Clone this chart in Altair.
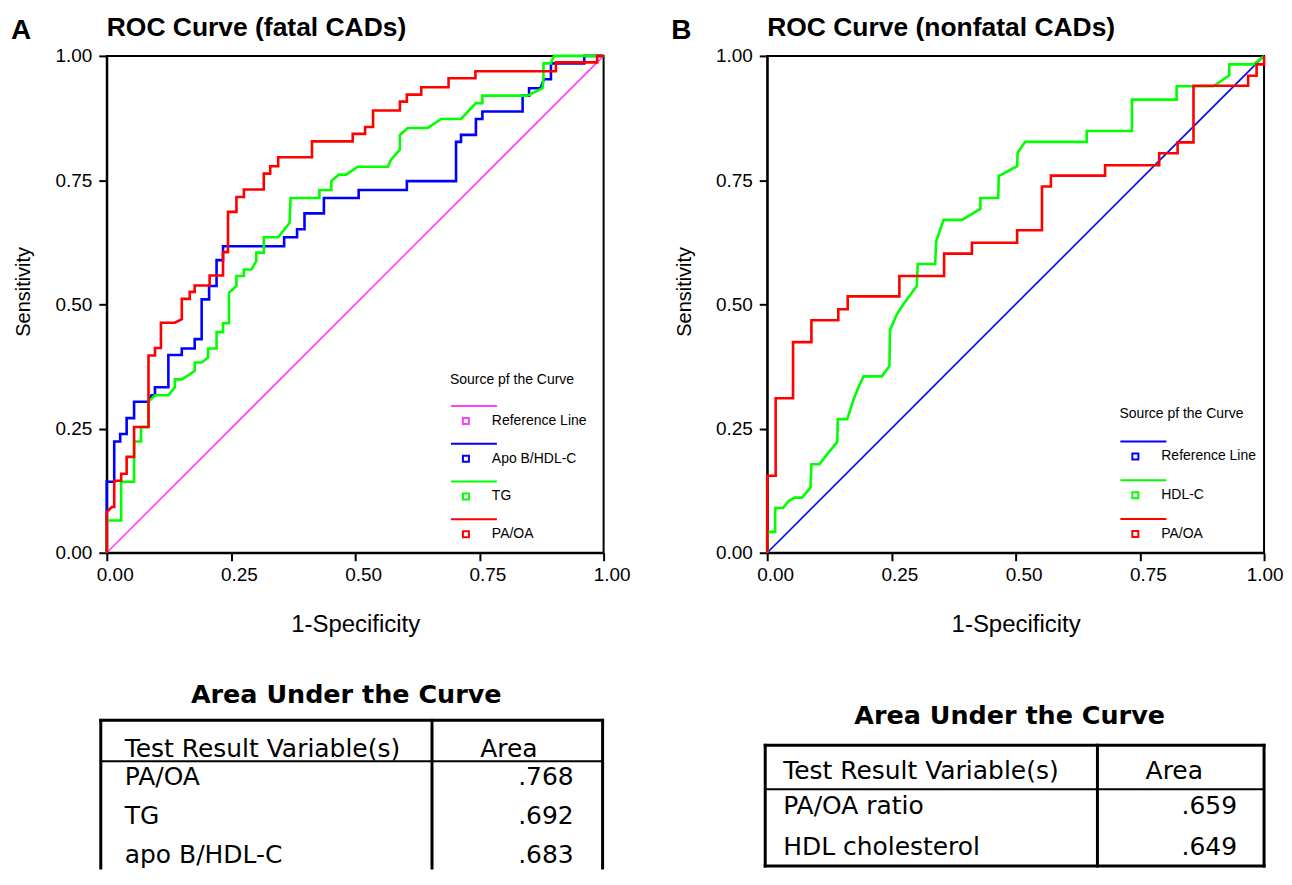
import altair as alt
import pandas as pd

FONT = "Liberation Sans"
TFONT = "DejaVu Sans"

# ---------------- Panel A : ROC (fatal CADs) ----------------
A_LETTER = "A"
A_TITLE = "ROC Curve (fatal CADs)"
A_SERIES = ["Reference Line", "Apo B/HDL-C", "TG", "PA/OA"]
A_COLORS = ["#ff40ff", "#0000ff", "#00ff00", "#ff0000"]

A_REF = [(0.0, 0.0), (1.0, 1.0)]

A_APO = [(0, 0), (0, 0.143), (0.015, 0.143), (0.015, 0.224), (0.027, 0.224), (0.027, 0.239),
         (0.040, 0.239), (0.040, 0.271), (0.055, 0.271), (0.055, 0.304), (0.084, 0.304),
         (0.090, 0.317), (0.097, 0.317), (0.097, 0.333), (0.124, 0.333), (0.124, 0.398),
         (0.151, 0.398), (0.151, 0.411), (0.177, 0.411), (0.177, 0.430), (0.191, 0.430),
         (0.191, 0.510), (0.206, 0.510), (0.206, 0.537), (0.221, 0.537), (0.221, 0.589),
         (0.234, 0.589), (0.234, 0.617), (0.357, 0.617), (0.357, 0.635), (0.383, 0.635),
         (0.383, 0.651), (0.398, 0.651), (0.398, 0.683), (0.437, 0.683), (0.437, 0.714),
         (0.507, 0.714), (0.507, 0.730), (0.604, 0.730), (0.604, 0.748), (0.703, 0.748),
         (0.703, 0.827), (0.713, 0.827), (0.713, 0.841), (0.743, 0.841), (0.743, 0.873),
         (0.756, 0.873), (0.756, 0.888), (0.837, 0.888), (0.837, 0.920), (0.850, 0.920),
         (0.850, 0.935), (0.873, 0.935), (0.880, 0.953), (0.894, 0.953), (0.894, 0.985),
         (0.961, 0.985), (0.961, 1.0), (1.0, 1.0)]

A_TG = [(0, 0), (0, 0.065), (0.029, 0.065), (0.029, 0.143), (0.055, 0.143), (0.055, 0.224),
        (0.069, 0.224), (0.069, 0.253), (0.084, 0.253), (0.084, 0.304), (0.097, 0.317),
        (0.124, 0.317), (0.137, 0.333), (0.137, 0.349), (0.151, 0.349), (0.164, 0.357),
        (0.177, 0.366), (0.177, 0.383), (0.191, 0.383), (0.204, 0.393), (0.204, 0.411),
        (0.221, 0.411), (0.221, 0.444), (0.234, 0.444), (0.234, 0.462), (0.246, 0.462),
        (0.246, 0.523), (0.261, 0.537), (0.261, 0.557), (0.276, 0.557), (0.276, 0.570),
        (0.291, 0.570), (0.301, 0.587), (0.301, 0.604), (0.316, 0.604), (0.316, 0.635),
        (0.345, 0.635), (0.368, 0.664), (0.370, 0.714), (0.428, 0.714), (0.428, 0.730),
        (0.452, 0.730), (0.452, 0.748), (0.467, 0.761), (0.482, 0.761), (0.505, 0.777),
        (0.566, 0.777), (0.572, 0.791), (0.590, 0.811), (0.590, 0.841), (0.606, 0.855),
        (0.646, 0.855), (0.673, 0.873), (0.713, 0.873), (0.743, 0.905), (0.756, 0.905),
        (0.756, 0.920), (0.847, 0.920), (0.877, 0.935), (0.879, 0.953), (0.879, 0.985),
        (0.894, 0.985), (0.900, 1.0), (1.0, 1.0)]

A_PAOA = [(0, 0), (0, 0.082), (0.010, 0.092), (0.015, 0.092), (0.015, 0.145), (0.029, 0.145),
          (0.029, 0.159), (0.040, 0.159), (0.040, 0.193), (0.055, 0.193), (0.055, 0.253),
          (0.084, 0.253), (0.084, 0.397), (0.097, 0.397), (0.097, 0.412), (0.109, 0.412),
          (0.109, 0.463), (0.137, 0.463), (0.151, 0.470), (0.151, 0.511), (0.167, 0.511),
          (0.167, 0.525), (0.177, 0.525), (0.177, 0.538), (0.207, 0.538), (0.207, 0.558),
          (0.234, 0.558), (0.234, 0.605), (0.244, 0.605), (0.244, 0.686), (0.261, 0.686),
          (0.261, 0.716), (0.276, 0.716), (0.276, 0.731), (0.316, 0.731), (0.316, 0.763),
          (0.329, 0.763), (0.329, 0.778), (0.345, 0.778), (0.345, 0.796), (0.413, 0.796),
          (0.413, 0.828), (0.495, 0.828), (0.495, 0.843), (0.520, 0.843), (0.520, 0.857),
          (0.536, 0.857), (0.536, 0.890), (0.590, 0.890), (0.590, 0.908), (0.604, 0.908),
          (0.604, 0.922), (0.633, 0.922), (0.633, 0.937), (0.688, 0.937), (0.688, 0.955),
          (0.742, 0.955), (0.742, 0.969), (0.904, 0.969), (0.904, 0.987), (0.987, 0.987),
          (0.987, 1.0), (1.0, 1.0)]

# ---------------- Panel B : ROC (nonfatal CADs) ----------------
B_LETTER = "B"
B_TITLE = "ROC Curve (nonfatal CADs)"
B_SERIES = ["Reference Line", "HDL-C", "PA/OA"]
B_COLORS = ["#0000ff", "#00ff00", "#ff0000"]

B_REF = [(0.0, 0.0), (1.0, 1.0)]

B_HDL = [(0, 0), (0, 0.042), (0.016, 0.042), (0.016, 0.090), (0.032, 0.090), (0.043, 0.104),
         (0.055, 0.111), (0.070, 0.111), (0.087, 0.131), (0.089, 0.178), (0.105, 0.178),
         (0.122, 0.200), (0.141, 0.223), (0.142, 0.269), (0.161, 0.269), (0.174, 0.309),
         (0.184, 0.334), (0.194, 0.355), (0.231, 0.355), (0.246, 0.376), (0.247, 0.448),
         (0.261, 0.480), (0.274, 0.500), (0.301, 0.537), (0.303, 0.581), (0.338, 0.581),
         (0.340, 0.627), (0.355, 0.670), (0.392, 0.670), (0.429, 0.692), (0.429, 0.714),
         (0.465, 0.714), (0.466, 0.758), (0.503, 0.778), (0.504, 0.805), (0.519, 0.827),
         (0.643, 0.827), (0.643, 0.849), (0.734, 0.849), (0.734, 0.912), (0.824, 0.912),
         (0.824, 0.939), (0.898, 0.939), (0.930, 0.961), (0.930, 0.983), (0.979, 0.983),
         (1.0, 1.0)]

B_PAOA = [(0, 0), (0, 0.155), (0.017, 0.155), (0.017, 0.311), (0.052, 0.311), (0.052, 0.424),
          (0.089, 0.424), (0.089, 0.468), (0.143, 0.468), (0.143, 0.490), (0.162, 0.490),
          (0.162, 0.516), (0.266, 0.516), (0.266, 0.557), (0.356, 0.557), (0.356, 0.602),
          (0.412, 0.602), (0.412, 0.624), (0.503, 0.624), (0.503, 0.649), (0.553, 0.649),
          (0.553, 0.737), (0.571, 0.737), (0.571, 0.759), (0.680, 0.759), (0.680, 0.780),
          (0.789, 0.780), (0.789, 0.804), (0.826, 0.804), (0.826, 0.826), (0.858, 0.826),
          (0.858, 0.940), (0.968, 0.940), (0.968, 0.960), (0.985, 0.960), (0.985, 0.983),
          (1.0, 0.983), (1.0, 1.0)]

# ---------------- AUC tables ----------------
TABLE_TITLE = "Area Under the Curve"
TABLE_HEAD = ["Test Result Variable(s)", "Area"]
A_TABLE_VARS = ["PA/OA", "TG", "apo B/HDL-C"]
A_TABLE_AREAS = [0.768, 0.692, 0.683]
B_TABLE_VARS = ["PA/OA ratio", "HDL cholesterol"]
B_TABLE_AREAS = [0.659, 0.649]

AXIS_TICKS = [0, 0.25, 0.5, 0.75, 1.0]
PW, PH = 498, 498
# legend symbol: coloured line above a small square (SPSS style)
SYMBOL = "M-1,-1L2.07,-1M-0.2,-0.2L0.2,-0.2L0.2,0.2L-0.2,0.2Z"
# panel letter anchor, in data units of the ROC axes (left of the y axis, above the frame)
LETTER_AT = (-0.193, 1.034)


def roc_chart(curves, names, colors, title, letter, lx, ly, title_pad, row_pad, edge_label=False):
    recs = []
    for name, pts in zip(names, curves):
        for i, (x, y) in enumerate(pts):
            recs.append({"series": name, "fpr": x, "tpr": y, "idx": i})
    df = pd.DataFrame(recs)
    color = alt.Color(
        "series:N",
        scale=alt.Scale(domain=names, range=colors),
        legend=alt.Legend(
            title="Source pf the Curve", orient="none", legendX=lx, legendY=ly,
            direction="vertical", symbolType=SYMBOL, symbolSize=900,
            symbolStrokeWidth=2, symbolFillColor="white", padding=0,
            titleFont=FONT, titleFontSize=14, titleFontWeight="normal",
            titleColor="black", titlePadding=title_pad,
            labelFont=FONT, labelFontSize=14, labelColor="black",
            labelOffset=10, rowPadding=row_pad,
        ),
    )
    xs = alt.Scale(domain=[0, 1], nice=False, zero=False)
    ys = alt.Scale(domain=[0, 1], nice=False, zero=False)
    if edge_label:
        # last label sits at the page edge: keep it inside the page
        x_align = {"condition": {"test": "datum.value == 1", "value": "right"}, "value": "center"}
        x_off = {"condition": {"test": "datum.value == 1", "value": 19}, "value": 8}
    else:
        x_align = "center"
        x_off = 8
    xenc = alt.X(
        "fpr:Q", scale=xs,
        axis=alt.Axis(values=AXIS_TICKS, format=".2f", title="1-Specificity",
                      labelFlush=False, labelAlign=x_align, labelOffset=x_off, labelPadding=5,
                      tickSize=8, tickWidth=2, domainWidth=2,
                      labelFontSize=19, titleFontSize=24, titlePadding=28),
    )
    yenc = alt.Y(
        "tpr:Q", scale=ys,
        axis=alt.Axis(values=AXIS_TICKS, format=".2f", title="Sensitivity",
                      labelPadding=7, tickSize=8, tickWidth=2, domainWidth=2,
                      labelFontSize=19, titleFontSize=20, titlePadding=21,
                      titleY=236),
    )
    layers = []
    for k, name in enumerate(names):
        layers.append(
            alt.Chart(df)
            .transform_filter(alt.datum.series == name)
            .mark_line(strokeWidth=1.6 if k == 0 else 2.6)
            .encode(x=xenc, y=yenc, color=color, order=alt.Order("idx:Q"))
        )
    letter_df = pd.DataFrame({"t": [letter], "x": [LETTER_AT[0]], "y": [LETTER_AT[1]]})
    layers.append(
        alt.Chart(letter_df).mark_text(font=FONT, fontSize=28, fontWeight="bold",
                                       align="left", baseline="alphabetic",
                                       color="black", clip=False)
        .encode(x=alt.X("x:Q", scale=xs), y=alt.Y("y:Q", scale=ys), text="t:N")
    )
    return alt.layer(*layers).properties(
        width=PW, height=PH,
        title=alt.TitleParams(title, anchor="start", frame="group", font=FONT, fontSize=26.5,
                              fontWeight="bold", color="black",
                              baseline="alphabetic", offset=20, dy=65),
        view=alt.ViewBackground(stroke="black", strokeWidth=2),
    )


TH = 206  # table panel height


def table_chart(vars_, areas, L, bottom_border):
    n = len(vars_)
    txt = pd.DataFrame({
        "label": [TABLE_HEAD[0]] + vars_,
        "value": [TABLE_HEAD[1]] + ["." + f"{a:.3f}".split(".")[1] for a in areas],
        "kind": ["header"] + ["row"] * n,
        "ty": [L["header_y"]] + [L["row0_y"] + i * L["row_h"] for i in range(n)],
        "lx": [L["text_left"]] * (n + 1),
        "vx": [L["area_cx"]] + [L["val_right"]] * n,
    })
    xs = alt.Scale(domain=[0, PW], nice=False, zero=False)
    ys = alt.Scale(domain=[0, TH], nice=False, zero=False, reverse=True)
    bottom = L["bottom_y"] if bottom_border else TH
    rules = [
        (L["left"], L["right"], L["top_y"], L["top_y"], 3),
        (L["left"], L["right"], L["hline_y"], L["hline_y"], 2),
        (L["left"], L["left"], L["top_y"], bottom, 3),
        (L["divider"], L["divider"], L["top_y"], bottom, 3),
        (L["right"], L["right"], L["top_y"], bottom, 3),
    ]
    if bottom_border:
        rules.append((L["left"], L["right"], bottom, bottom, 3))
    rdf = pd.DataFrame(rules, columns=["x1", "x2", "y1", "y2", "w"])

    title = alt.Chart(pd.DataFrame({"t": [TABLE_TITLE], "x": [L["title_cx"]], "y": [L["title_y"]]})).mark_text(
        font=TFONT, fontSize=25.5, fontWeight="bold", align="center", baseline="alphabetic", color="black"
    ).encode(x=alt.X("x:Q", scale=xs, axis=None), y=alt.Y("y:Q", scale=ys, axis=None), text="t:N")

    base = alt.Chart(txt)
    labels = base.mark_text(font=TFONT, fontSize=25, align="left", baseline="alphabetic", color="black").encode(
        x=alt.X("lx:Q", scale=xs, axis=None), y=alt.Y("ty:Q", scale=ys, axis=None), text="label:N")
    head_val = base.transform_filter(alt.datum.kind == "header").mark_text(
        font=TFONT, fontSize=25, align="center", baseline="alphabetic", color="black").encode(
        x=alt.X("vx:Q", scale=xs, axis=None), y=alt.Y("ty:Q", scale=ys, axis=None), text="value:N")
    vals = base.transform_filter(alt.datum.kind == "row").mark_text(
        font=TFONT, fontSize=25, align="right", baseline="alphabetic", color="black").encode(
        x=alt.X("vx:Q", scale=xs, axis=None), y=alt.Y("ty:Q", scale=ys, axis=None), text="value:N")
    lines = alt.Chart(rdf).mark_rule(color="black", strokeCap="square").encode(
        x=alt.X("x1:Q", scale=xs, axis=None), x2="x2:Q",
        y=alt.Y("y1:Q", scale=ys, axis=None), y2="y2:Q",
        strokeWidth=alt.StrokeWidth("w:Q", scale=None),
    )
    return alt.layer(lines, title, labels, head_val, vals).properties(
        width=PW, height=TH, view=alt.ViewBackground(stroke=None)
    )


LAY_A = dict(title_y=41, title_cx=240, top_y=58, header_y=95, hline_y=99,
             row0_y=123, row_h=39, bottom_y=TH, left=-6, right=497, divider=326,
             text_left=18, area_cx=403, val_right=468)
LAY_B = dict(title_y=62, title_cx=243, top_y=83, header_y=117, hline_y=127,
             row0_y=152, row_h=41, bottom_y=204, left=-2, right=498, divider=331,
             text_left=16, area_cx=408, val_right=471)

rocA = roc_chart([A_REF, A_APO, A_TG, A_PAOA], A_SERIES, A_COLORS, A_TITLE, A_LETTER,
                 lx=344, ly=318, title_pad=18, row_pad=11.8)
rocB = roc_chart([B_REF, B_HDL, B_PAOA], B_SERIES, B_COLORS, B_TITLE, B_LETTER,
                 lx=353, ly=352, title_pad=19.5, row_pad=12.9, edge_label=True)

tabA = table_chart(A_TABLE_VARS, A_TABLE_AREAS, LAY_A, bottom_border=False)
tabB = table_chart(B_TABLE_VARS, B_TABLE_AREAS, LAY_B, bottom_border=True)

chart = (
    alt.concat(rocA, rocB, tabA, tabB, columns=2, bounds="flush",
               spacing={"row": 110, "column": 164},
               padding={"left": 1, "top": 4, "right": 0, "bottom": 0})
    .resolve_scale(color="independent")
    .resolve_legend(color="independent")
    .properties(background="white")
    .configure(font=FONT)
    .configure_view(stroke=None)
    .configure_axis(grid=False, labelColor="black", titleColor="black",
                    domainColor="black", tickColor="black", titleFontWeight="normal",
                    labelFont=FONT, titleFont=FONT)
)

chart.save("out.html", embed_options={"renderer": "svg", "actions": False})
